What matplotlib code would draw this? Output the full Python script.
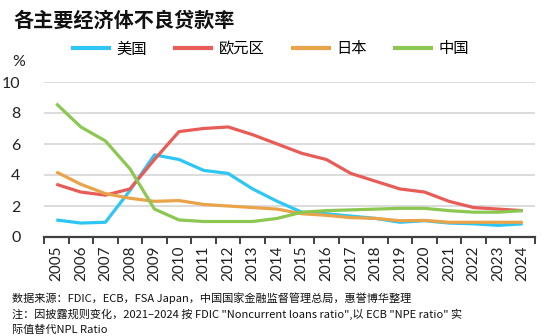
import numpy as np
import matplotlib
matplotlib.use("Agg")
import matplotlib.pyplot as plt

plt.rcParams['font.family'] = ['Lato', 'Noto Sans CJK SC', 'DejaVu Sans']

years = [str(y) for y in range(2005, 2025)]
us = [1.1, 0.9, 0.95, 3.0, 5.3, 5.0, 4.3, 4.1, 3.1, 2.3, 1.6, 1.5, 1.35, 1.2, 0.95, 1.05, 0.9, 0.85, 0.75, 0.85]
eu = [3.4, 2.9, 2.7, 3.1, 5.0, 6.8, 7.0, 7.1, 6.6, 6.0, 5.4, 5.0, 4.1, 3.6, 3.1, 2.9, 2.3, 1.9, 1.8, 1.7]
jp = [4.2, 3.4, 2.8, 2.5, 2.3, 2.35, 2.1, 2.0, 1.9, 1.8, 1.5, 1.4, 1.25, 1.2, 1.05, 1.07, 0.95, 0.95, 0.95, 0.95]
cn = [8.6, 7.1, 6.2, 4.4, 1.8, 1.1, 1.0, 1.0, 1.0, 1.2, 1.6, 1.7, 1.75, 1.8, 1.85, 1.85, 1.7, 1.6, 1.6, 1.7]

series = [
    ("美国", us, "#2ec6f4"),
    ("欧元区", eu, "#e85c57"),
    ("日本", jp, "#e9a349"),
    ("中国", cn, "#8cc751"),
]

W, H = 556, 336
fig = plt.figure(figsize=(W / 100, H / 100), dpi=100)
ax = fig.add_axes([44 / W, 1 - 237 / H, (535 - 44) / W, (237 - 82) / H])

x = np.arange(len(years))
for name, vals, col in series:
    ax.plot(x, vals, color=col, lw=2.3, label=name, solid_capstyle='butt')

ax.set_xlim(-0.5, len(years) - 0.5)
ax.set_ylim(0, 10)
ax.set_yticks([0, 2, 4, 6, 8, 10])
ax.yaxis.grid(True, color="#d9d9d9", lw=1.3)
ax.set_axisbelow(True)
for s in ["top", "right", "left"]:
    ax.spines[s].set_visible(False)
ax.spines["bottom"].set_color("#404040")
ax.spines["bottom"].set_linewidth(1.6)
ax.spines["bottom"].set_zorder(5)

ax.set_xticks(x)
ax.set_xticklabels(years, rotation=90, fontsize=11, color="#222222")
ax.tick_params(axis="x", which="major", length=0, pad=6)
ax.set_xticks(np.arange(-0.5, len(years)), minor=True)
ax.tick_params(axis="x", which="minor", length=5, width=1.4, color="#404040", direction="out")
ax.tick_params(axis="y", length=0, pad=17, labelsize=11.5, labelcolor="#222222")

fig.text(12 / W, 1 - 62 / H, "%", fontsize=11.5, va="center", ha="left", color="#222222")

fig.text(13 / W, 1 - 20 / H, "各主要经济体不良贷款率", fontsize=14.5, fontweight="bold",
         family=["Noto Sans CJK SC"], va="center", ha="left", color="#111111")

leg = fig.legend(loc="center left", bbox_to_anchor=(71 / W, 1 - 49 / H), ncol=4,
                 frameon=False, prop={"family": ["Noto Sans CJK SC"], "size": 11},
                 handlelength=2.6, handletextpad=0.35, columnspacing=1.75,
                 borderpad=0, borderaxespad=0)
for line in leg.get_lines():
    line.set_linewidth(3)

notes = [
    "数据来源：FDIC，ECB，FSA Japan，中国国家金融监督管理总局，惠誉博华整理",
    "注：因披露规则变化，2021–2024 按 FDIC \"Noncurrent loans ratio\",以 ECB \"NPE ratio\" 实",
    "际值替代NPL Ratio",
]
for i, t in enumerate(notes):
    fig.text(12 / W, 1 - (298 + 16 * i) / H, t, fontsize=8,
             family=["Noto Sans CJK SC", "DejaVu Sans"], va="center", ha="left", color="#111111")

fig.savefig("out.png", dpi=100)
